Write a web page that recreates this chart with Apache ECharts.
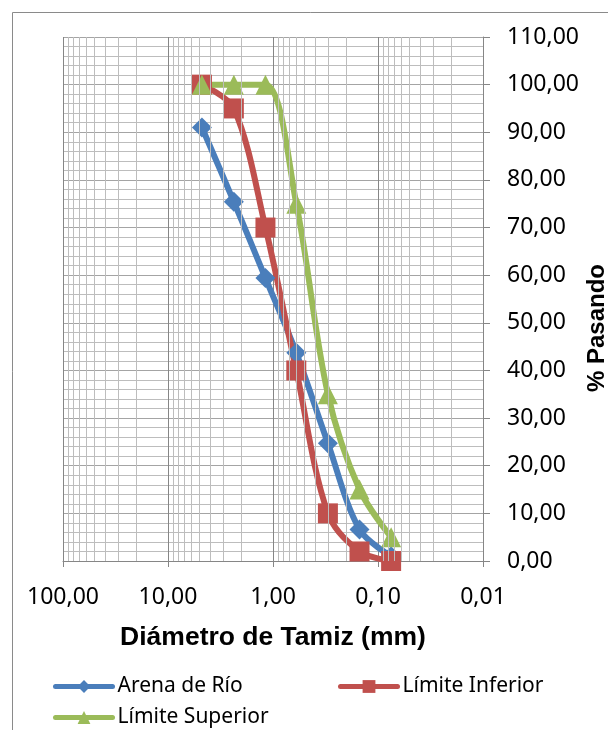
<!DOCTYPE html>
<html>
<head>
<meta charset="utf-8">
<script src="https://cdn.jsdelivr.net/npm/echarts@6/dist/echarts.min.js"></script>
<style>html,body{margin:0;padding:0;background:#fff}#c{width:608px;height:730px}</style>
</head>
<body>
<div id="c"></div>
<script>
// Sieve sizes (mm)
const sieves = [4.75, 2.36, 1.18, 0.6, 0.3, 0.15, 0.075];
// % passing
const arenaRio = [91, 75.4, 59.4, 43.7, 24.7, 6.6, 1];
const limiteInferior = [100, 95, 70, 40, 10, 2, 0];
const limiteSuperior = [100, 100, 100, 75, 35, 15, 5];
const seriesNames = ['Arena de Río', 'Límite Inferior', 'Límite Superior'];

const minorX = [];
[-2, -1, 0, 1].forEach(function (k) {
  for (let m = 2; m <= 9; m++) minorX.push(m * Math.pow(10, k));
});

function pairs(vals) { return sieves.map(function (s, i) { return [s, vals[i]]; }); }
function fmt(v) { return Number(v).toFixed(2).replace('.', ','); }

const FONT = 'Noto Sans';
const chart = echarts.init(document.getElementById('c'), null, { renderer: 'canvas' });

const lineSeries = function (name, vals, color, symbol, size) {
  return {
    name: name, type: 'line', data: pairs(vals), smooth: 0.33,
    symbol: symbol, symbolSize: size, showSymbol: true,
    lineStyle: { color: color, width: 6, cap: 'round', join: 'round' },
    itemStyle: { color: color },
    z: 3, animation: false
  };
};

const legendBase = function (names, left, top) {
  return {
    data: names, left: left, top: top, orient: 'horizontal', padding: 0,
    itemWidth: 57, itemHeight: 16, itemGap: 10, selectedMode: false,
    lineStyle: { width: 5, cap: 'round' },
    textStyle: { fontFamily: FONT, fontSize: 21, color: '#000' }
  };
};

chart.setOption({
  animation: false,
  backgroundColor: '#fff',
  graphic: [{
    type: 'rect', left: 10, top: 10, shape: { width: 800, height: 900 },
    style: { fill: 'none', stroke: '#8a8a8a', lineWidth: 1 }, silent: true, z: -1
  }, {
    type: 'text', x: 597, y: 328, rotation: Math.PI / 2, silent: true,
    style: { text: '% Pasando', fontFamily: 'Liberation Sans', fontWeight: 'bold', fontSize: 24,
      fill: '#000', align: 'center', verticalAlign: 'middle' }
  }],
  grid: { left: 63, right: 125, top: 37, bottom: 169, containLabel: false, outerBoundsMode: 'none' },
  legend: [
    legendBase([seriesNames[0]], 53, 676),
    legendBase([seriesNames[1]], 338, 676),
    legendBase([seriesNames[2]], 53, 707)
  ],
  xAxis: {
    type: 'log', logBase: 10, min: 0.01, max: 100, inverse: true,
    name: 'Diámetro de Tamiz (mm)', nameLocation: 'middle', nameGap: 63,
    nameTextStyle: { fontFamily: 'Liberation Sans', fontWeight: 'bold', fontSize: 26.5, color: '#000' },
    axisLine: { show: true, lineStyle: { color: '#868686', width: 1 } },
    axisTick: { show: true, inside: false, length: 6, lineStyle: { color: '#868686' } },
    axisLabel: { formatter: fmt, fontFamily: FONT, fontSize: 23, color: '#000', margin: 25 },
    splitLine: { show: true, lineStyle: { color: '#868686', width: 1 } }
  },
  yAxis: {
    type: 'value', position: 'right', min: 0, max: 110, interval: 10,
    axisLine: { show: true, lineStyle: { color: '#868686', width: 1 } },
    axisTick: { show: true, inside: false, length: 7, lineStyle: { color: '#868686' } },
    axisLabel: { formatter: fmt, fontFamily: FONT, fontSize: 23, color: '#000', margin: 24 },
    splitLine: { show: true, lineStyle: { color: '#a4a4a4', width: 1 } },
    minorTick: { show: false, splitNumber: 5 },
    minorSplitLine: { show: true, lineStyle: { color: '#bdbdbd', width: 1 } }
  },
  series: [
    {
      name: 'minor', type: 'line', data: [], z: 1, silent: true, animation: false,
      markLine: {
        silent: true, symbol: ['none', 'none'], label: { show: false }, animation: false,
        lineStyle: { color: '#bdbdbd', width: 1, type: 'solid' },
        data: minorX.map(function (v) { return { xAxis: v }; })
      }
    },
    lineSeries(seriesNames[0], arenaRio, '#4A7EBB', 'diamond', 20),
    lineSeries(seriesNames[1], limiteInferior, '#C0504D', 'rect', 20),
    lineSeries(seriesNames[2], limiteSuperior, '#9BBB59', 'triangle', 20)
  ]
});
</script>
</body>
</html>
